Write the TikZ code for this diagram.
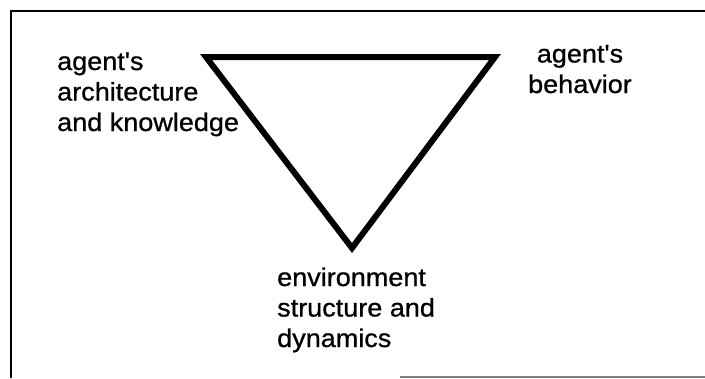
\documentclass[tikz,border=0pt]{standalone}
\usepackage{fontspec}
\newfontfamily\labelfont[FakeStretch=1.06,FakeBold=0.8]{Liberation Sans}
\usetikzlibrary{positioning}

\begin{document}
\begin{tikzpicture}
	[x=1pt,y=-1pt,line join=miter,
		frame line/.style={line width=2.6pt},
		side line/.style={line width=6pt},
		corner text/.style={inner sep=0pt,font=\labelfont\fontsize{25.5}{30.5}\selectfont}]

	\useasboundingbox (0,0) rectangle (705,378);

	% the box round the picture, cut off at the right
	\draw[frame line] (11,378) -- (11,11) -- (705,11);
	\draw[gray,line width=1.2pt] (400,377) -- (705,377);

	\coordinate (arch) at (206,57);
	\coordinate (behav) at (495,57);
	\coordinate (env) at (352,248);

	\draw[side line] (arch) -- (behav) -- (env) -- cycle;

	% base is the last line here
	\node[corner text,anchor=base west,align=left] (archtext) at (57,131)
		{agent's\\architecture\\and knowledge};
	\node[corner text,anchor=base,align=center] (behavtext) at (580,93)
		{agent's\\behavior};
	\node[corner text,anchor=base west,align=left] (envtext) at (277,347)
		{environment\\structure and\\dynamics};

\end{tikzpicture}
\end{document}
